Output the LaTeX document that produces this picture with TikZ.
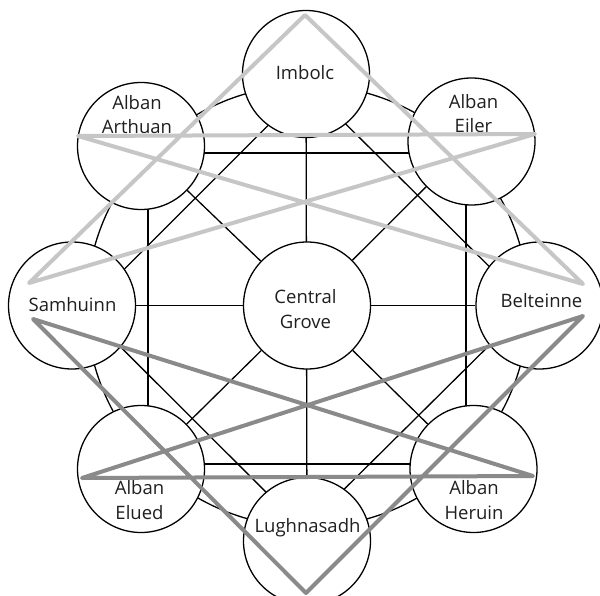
\documentclass[tikz,border=0pt]{standalone}
\usepackage{fontspec}
\setmainfont{Open Sans}
\usetikzlibrary{backgrounds}
\definecolor{lightgr}{RGB}{198,198,198}
\definecolor{darkgr}{RGB}{138,138,138}
\begin{document}
\begin{tikzpicture}[x=1pt,y=-1pt,
  station/.style={circle,draw=black,line width=1.3pt,fill=white,minimum size=127pt,inner sep=0pt},
  lbl/.style={font=\fontsize{18.5}{24.5}\selectfont,align=center,inner sep=0pt,text=black!88},
  web/.style={line width=1.3pt,draw=black},
  lightstar/.style={line width=4pt,draw=lightgr,line join=round},
  darkstar/.style={line width=4pt,draw=darkgr,line join=round}]
\useasboundingbox (0,0) rectangle (600,596);
% stations
\node[station] (central) at (307,305.5) {};
\node[station] (imbolc) at (306,74) {};
\node[station] (arthuan) at (141,146) {};
\node[station] (eiler) at (471.5,141.5) {};
\node[station] (samhuinn) at (72,305.5) {};
\node[station] (belteinne) at (539.5,305.5) {};
\node[station] (elued) at (141,469) {};
\node[station] (heruin) at (473.5,469) {};
\node[station] (lugh) at (307,541) {};
% web of black lines behind the stations
\coordinate (o) at (307.5,306);
\coordinate (sqA) at (148,153);
\coordinate (sqB) at (466,153);
\coordinate (sqC) at (466,464);
\coordinate (sqD) at (148,464);
\coordinate (dmT) at (307.5,86);
\coordinate (dmR) at (529,306);
\coordinate (dmB) at (303.5,529.5);
\coordinate (dmL) at (83.5,310);
\begin{pgfonlayer}{background}
  \draw[web] (o) circle[radius=221pt];
  \draw[web] (sqA) -- (sqB) -- (sqC) -- (sqD) -- cycle;
  \draw[web] (dmT) -- (dmR) -- (dmB) -- (dmL) -- cycle;
  \draw[web] (imbolc) -- (lugh);
  \draw[web] (samhuinn) -- (belteinne);
  \draw[web] (central) -- (arthuan);
  \draw[web] (central) -- (eiler);
  \draw[web] (central) -- (elued);
  \draw[web] (central) -- (heruin);
\end{pgfonlayer}
% labels (base anchor = baseline of the last line)
\node[lbl,anchor=base] (t-imbolc) at (305,80) {Imbolc};
\node[lbl,anchor=base] (t-arthuan) at (137,134) {Alban\\Arthuan};
\node[lbl,anchor=base] (t-eiler) at (473.5,133) {Alban\\Eiler};
\node[lbl,anchor=base] (t-samhuinn) at (72.5,311) {Samhuinn};
\node[lbl,anchor=base] (t-central) at (305.5,328) {Central\\Grove};
\node[lbl,anchor=base] (t-belteinne) at (541.5,308) {Belteinne};
\node[lbl,anchor=base] (t-elued) at (139.5,519) {Alban\\Elued};
\node[lbl,anchor=base] (t-heruin) at (474,519) {Alban\\Heruin};
\node[lbl,anchor=base] (t-lugh) at (307.5,532) {Lughnasadh};
% light grey star
\coordinate (la) at (305,15);
\coordinate (lb) at (583,284);
\coordinate (lc) at (78,136);
\coordinate (ld) at (535,134);
\coordinate (le) at (29,283);
\draw[lightstar] (la) -- (lb) -- (lc) -- (ld) -- (le) -- cycle;
% dark grey star
\coordinate (da) at (306,593);
\coordinate (db) at (33,319);
\coordinate (dc) at (533,476);
\coordinate (dd) at (82,478);
\coordinate (de) at (583,316);
\draw[darkstar] (da) -- (db) -- (dc) -- (dd) -- (de) -- cycle;
\end{tikzpicture}
\end{document}
